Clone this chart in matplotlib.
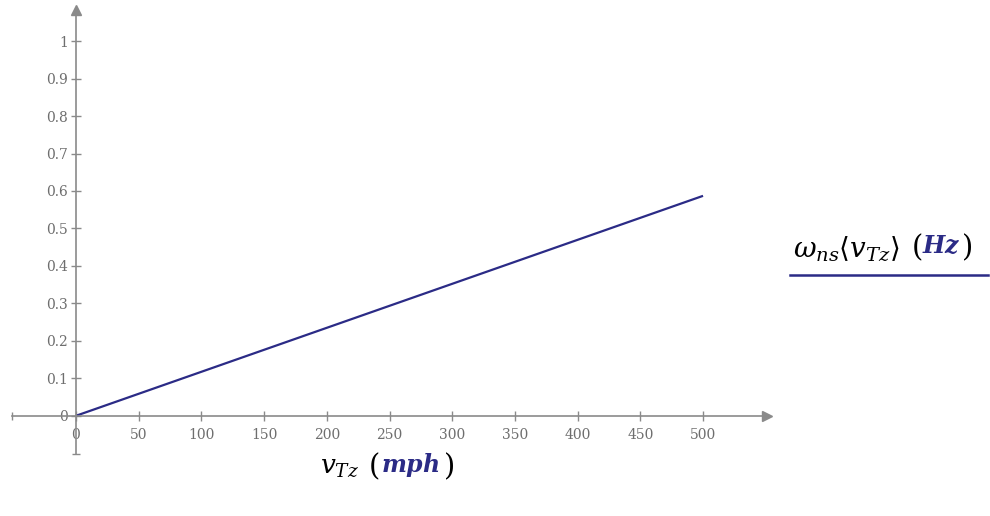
import matplotlib
matplotlib.use("Agg")
import matplotlib.pyplot as plt
import numpy as np

# Data
v_mph = [0, 500]
omega_hz = [0.0, 0.587]
x_ticks = [0, 50, 100, 150, 200, 250, 300, 350, 400, 450, 500]
y_ticks = [0, 0.1, 0.2, 0.3, 0.4, 0.5, 0.6, 0.7, 0.8, 0.9, 1]
y_tick_labels = ["0", "0.1", "0.2", "0.3", "0.4", "0.5", "0.6", "0.7", "0.8", "0.9", "1"]

plt.rcParams['mathtext.fontset'] = 'dejavuserif'
plt.rcParams['font.family'] = ['DejaVu Serif']

W, H = 990, 516
fig = plt.figure(figsize=(W / 100, H / 100), dpi=100)

xmin, xmax = -51, 551
ymin, ymax = -0.102, 1.083
left_px, right_px = 12, 767
top_px, bot_px = 10, 454
ax = fig.add_axes([left_px / W, (H - bot_px) / H, (right_px - left_px) / W, (bot_px - top_px) / H])
ax.set_xlim(xmin, xmax)
ax.set_ylim(ymin, ymax)
ax.patch.set_alpha(0)

axis_col = '#8a8a8a'
line_col = '#2b2b86'

for s in ['top', 'right']:
    ax.spines[s].set_visible(False)
ax.spines['left'].set_position(('data', 0))
ax.spines['bottom'].set_position(('data', 0))
for s in ['left', 'bottom']:
    ax.spines[s].set_color(axis_col)
    ax.spines[s].set_linewidth(1.2)

ax.set_xticks(x_ticks)
ax.set_xticklabels([str(t) for t in x_ticks])
ax.set_yticks(y_ticks)
ax.set_yticklabels(y_tick_labels)
ax.tick_params(direction='inout', length=7, width=1, colors=axis_col,
               labelsize=10, labelcolor='#6e6e6e', pad=2)
ax.tick_params(axis='x', pad=5)

# arrowheads and end caps
ax.plot(1, 0, marker='>', color=axis_col, markersize=7, transform=ax.get_yaxis_transform(), clip_on=False)
ax.plot(0, 1, marker='^', color=axis_col, markersize=7, transform=ax.get_xaxis_transform(), clip_on=False)
ax.plot(0, 0, marker='|', color=axis_col, markersize=6, transform=ax.get_yaxis_transform(), clip_on=False)
ax.plot(0, 0, marker='_', color=axis_col, markersize=6, transform=ax.get_xaxis_transform(), clip_on=False)

ax.plot(v_mph, omega_hz, color=line_col, lw=1.6, solid_capstyle='butt')

# x-axis label
fig.text(320 / W, 1 - 468 / H, r'$v_{Tz}$', fontsize=19, ha='left', va='center', color='black')
fig.text(368 / W, 1 - 466 / H, r'$($', fontsize=21, ha='left', va='center', color='black')
fig.text(381 / W, 1 - 465 / H, r'$\mathbfit{mph}$', fontsize=17, ha='left', va='center', color=line_col)
fig.text(443 / W, 1 - 466 / H, r'$)$', fontsize=21, ha='left', va='center', color='black')

# legend
fig.text(793 / W, 1 - 249 / H, r'$\omega_{ns}\left\langle v_{Tz}\right\rangle$', fontsize=20,
         ha='left', va='center', color='black')
fig.text(911 / W, 1 - 247 / H, r'$($', fontsize=21, ha='left', va='center', color='black')
fig.text(922 / W, 1 - 246 / H, r'$\mathbfit{Hz}$', fontsize=17, ha='left', va='center', color=line_col)
fig.text(961 / W, 1 - 247 / H, r'$)$', fontsize=21, ha='left', va='center', color='black')
fig.add_artist(plt.Line2D([790 / W, 988 / W], [1 - 275 / H, 1 - 275 / H], color=line_col, lw=1.8))

fig.savefig('out.png', dpi=100, facecolor='white')
